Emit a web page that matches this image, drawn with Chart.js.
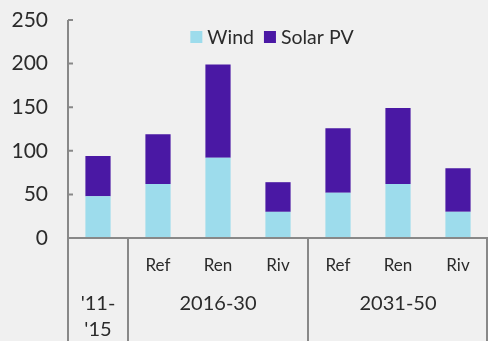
<!DOCTYPE html>
<html>
<head>
<meta charset="utf-8">
<script src="https://cdn.jsdelivr.net/npm/chart.js@4/dist/chart.umd.min.js"></script>
<style>
  html, body { margin: 0; padding: 0; background: #f0f0f0; }
  #wrap { width: 488px; height: 341px; position: relative; }
</style>
</head>
<body>
<div id="wrap"><canvas id="c" width="488" height="341"></canvas></div>
<script>
// Scenario labels per bar, and the period each bar belongs to
const scenarioLabels = ['', 'Ref', 'Ren', 'Riv', 'Ref', 'Ren', 'Riv'];
const periodLabels = [["'11-", "'15"], '2016-30', '2031-50'];
const periodSpans = [[0, 0], [1, 3], [4, 6]];

// Annual additions (GW)
const windValues = [48, 62, 92, 30, 52, 62, 30];
const solarValues = [46, 57, 107, 34, 74, 87, 50];

const yTicks = [0, 50, 100, 150, 200, 250];

const AXIS = '#888888';
const TEXT = '#2b2b2b';
const FONT = 'Lato, "DejaVu Sans", sans-serif';

// Axis frame, inward ticks, in-plot legend and the two-row category axis
const frame = {
  id: 'frame',
  afterDraw(chart) {
    const { ctx, chartArea: a, scales: { x, y } } = chart;
    const H = chart.height;
    ctx.save();
    ctx.strokeStyle = AXIS;
    ctx.lineWidth = 2;
    ctx.beginPath();
    // value axis runs down through the label rows
    ctx.moveTo(a.left, a.top);
    ctx.lineTo(a.left, H);
    // baseline
    ctx.moveTo(a.left, y.getPixelForValue(0));
    ctx.lineTo(chart.width, y.getPixelForValue(0));
    // inward tick marks
    yTicks.forEach(v => {
      const py = y.getPixelForValue(v);
      ctx.moveTo(a.left, py);
      ctx.lineTo(a.left + 5, py);
    });
    // period separators
    periodSpans.forEach(([s, e]) => {
      const px = e < scenarioLabels.length - 1
        ? (x.getPixelForValue(e) + x.getPixelForValue(e + 1)) / 2
        : chart.width - 1;
      ctx.moveTo(px, y.getPixelForValue(0));
      ctx.lineTo(px, H);
    });
    ctx.stroke();

    ctx.fillStyle = TEXT;
    ctx.textAlign = 'center';
    ctx.textBaseline = 'middle';
    // scenario row
    ctx.font = '17px ' + FONT;
    scenarioLabels.forEach((lab, i) => {
      if (lab) ctx.fillText(lab, x.getPixelForValue(i), 266);
    });
    // period row
    ctx.font = '20px ' + FONT;
    periodLabels.forEach((lab, k) => {
      const [s, e] = periodSpans[k];
      const cx = (x.getPixelForValue(s) + x.getPixelForValue(e)) / 2;
      if (Array.isArray(lab)) {
        ctx.fillText(lab[0], cx, 304);
        ctx.fillText(lab[1], cx, 330);
      } else {
        ctx.fillText(lab, cx, 304);
      }
    });

    // legend, centred near the top of the plot
    ctx.font = '19.5px ' + FONT;
    ctx.textAlign = 'left';
    const box = 12, gapText = 5, gapItem = 10;
    const items = chart.data.datasets.map(d => ({
      label: d.label, color: d.backgroundColor, w: box + gapText + ctx.measureText(d.label).width
    }));
    const total = items.reduce((s, it) => s + it.w, 0) + gapItem * (items.length - 1);
    let lx = (a.left + a.right) / 2 - total / 2 - 6;
    const ly = a.top + 17;
    items.forEach(it => {
      ctx.fillStyle = it.color;
      ctx.fillRect(lx, ly - box / 2, box, box);
      ctx.fillStyle = TEXT;
      ctx.fillText(it.label, lx + box + gapText, ly + 1);
      lx += it.w + gapItem;
    });
    ctx.restore();
  }
};

new Chart(document.getElementById('c'), {
  type: 'bar',
  data: {
    labels: scenarioLabels,
    datasets: [
      { label: 'Wind', data: windValues, backgroundColor: '#9ddcec', borderWidth: 0 },
      { label: 'Solar PV', data: solarValues, backgroundColor: '#4a18a4', borderWidth: 0 }
    ]
  },
  options: {
    responsive: false,
    animation: false,
    devicePixelRatio: 1,
    layout: { padding: { top: 20, right: 0, bottom: 103, left: 0 } },
    datasets: { bar: { barPercentage: 0.42, categoryPercentage: 1.0 } },
    plugins: {
      legend: { display: false },
      tooltip: { enabled: false }
    },
    scales: {
      x: {
        stacked: true,
        display: false
      },
      y: {
        stacked: true,
        min: 0, max: 250,
        afterBuildTicks(scale) { scale.ticks = yTicks.map(v => ({ value: v })); },
        afterFit(scale) {
          scale.width = 68;
          scale.paddingTop = 0;
          scale.paddingBottom = 0;
        },
        grid: { display: false },
        border: { display: false },
        ticks: { color: TEXT, padding: 12, font: { family: FONT, size: 21 } }
      }
    }
  },
  plugins: [frame]
});
</script>
</body>
</html>
